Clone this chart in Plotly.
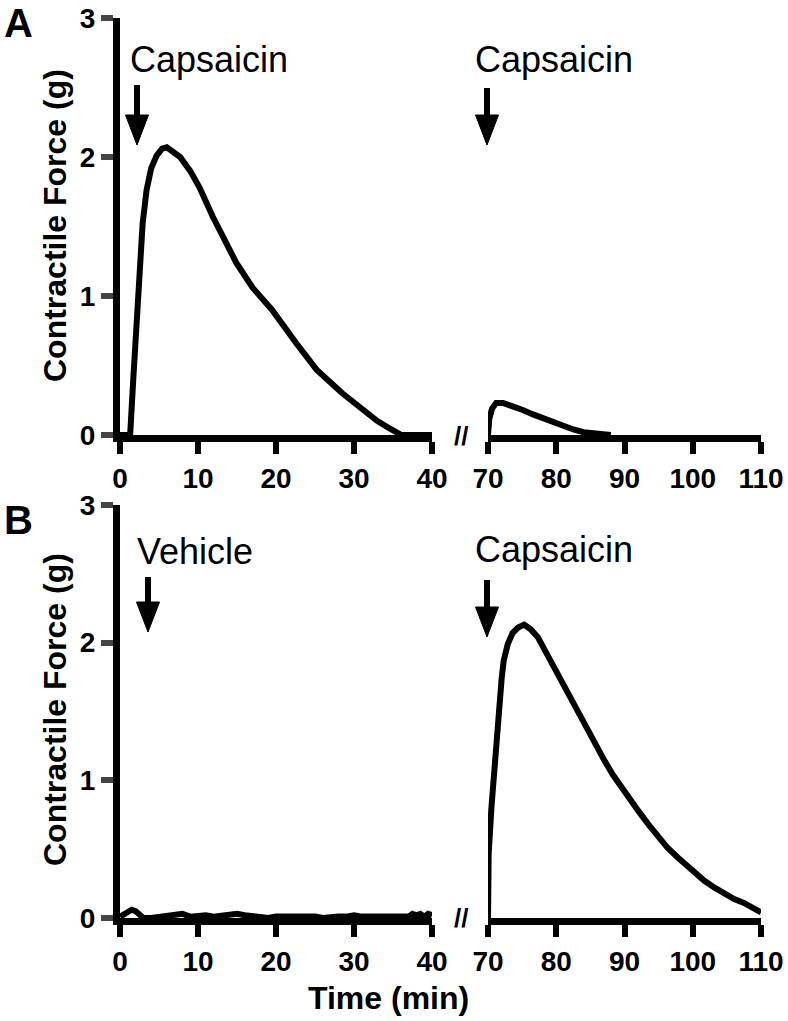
import plotly.graph_objects as go

W, H = 788, 1021

# ---------------- data
# panel A, first capsaicin (0-40 min)
a1_t = [0, 1.0, 1.3, 1.7, 2.1, 2.5, 2.9, 3.4, 4.0, 4.7, 5.4, 6.0, 6.8, 7.7, 9.0, 10.2,
        11.9, 13.5, 14.9, 17.0, 19.5, 22.6, 25.2, 28.5, 31.5, 33.0, 34.5, 36.1, 38.0, 40.0]
a1_f = [0, 0, 0, 0.40, 0.80, 1.20, 1.52, 1.76, 1.92, 2.01, 2.06, 2.07, 2.04, 2.00, 1.90, 1.78,
        1.57, 1.39, 1.24, 1.06, 0.90, 0.66, 0.47, 0.30, 0.16, 0.10, 0.05, 0.0, 0, 0]
# panel A, second capsaicin (70-110 min)
a2_t = [70.0, 70.0, 70.2, 70.6, 71.2, 72.2, 73.5, 75.1, 76.5, 78.0, 79.5, 81.0, 82.5, 84.0,
        85.5, 87.0, 88.0]
a2_f = [0, 0.06, 0.12, 0.19, 0.23, 0.23, 0.21, 0.18, 0.15, 0.12, 0.09, 0.06, 0.04, 0.02,
        0.01, 0, 0]
# panel B, vehicle (0-40 min)
b1_t = [0, 0.5, 1.0, 1.5, 2.0, 2.5, 3.0, 4, 5, 6, 7, 8, 9, 10, 11, 12, 13, 14, 15, 16, 17,
        18, 19, 20, 21, 22, 23, 24, 25, 26, 27, 28, 29, 30, 31, 32, 33, 34, 35, 36, 37,
        37.5, 38, 38.5, 39, 39.5, 40]
b1_f = [0.01, 0.03, 0.05, 0.06, 0.05, 0.02, 0.0, 0.0, 0.01, 0.02, 0.02, 0.03, 0.01, 0.02,
        0.02, 0.01, 0.02, 0.02, 0.03, 0.02, 0.01, 0.01, 0.0, 0.01, 0.01, 0.02, 0.01, 0.01,
        0.01, 0.0, 0.01, 0.01, 0.01, 0.02, 0.01, 0.01, 0.0, 0.01, 0.0, 0.0, 0.01, 0.03, 0.02,
        0.03, 0.01, 0.03, 0.02]
# panel B, capsaicin (70-110 min)
b2_t = [70.0, 70.1, 70.5, 70.9, 71.3, 71.6, 72.0, 72.3, 72.9, 73.6, 74.4, 75.3, 76.2, 77.3,
        78.5, 79.7, 81.0, 82.2, 83.5, 84.7, 85.9, 87.1, 88.3, 89.5, 90.8, 92.0, 93.5, 94.9,
        96.3, 97.8, 99.7, 101.7, 103.2, 104.6, 106.0, 107.5, 108.8, 110.0]
b2_f = [0.0, 0.47, 0.80, 1.07, 1.35, 1.56, 1.74, 1.87, 1.99, 2.07, 2.11, 2.13, 2.10, 2.04,
        1.93, 1.80, 1.69, 1.58, 1.47, 1.36, 1.25, 1.14, 1.04, 0.95, 0.86, 0.78, 0.68, 0.59,
        0.51, 0.44, 0.35, 0.27, 0.22, 0.18, 0.14, 0.11, 0.07, 0.04]

left_ticks = [0, 10, 20, 30, 40]
right_ticks = [70, 80, 90, 100, 110]
y_ticks = [0, 1, 2, 3]


# window pixel -> paper fraction
def px(x):
    return x / W


def py(y):
    return 1 - y / H


BOLD = "Liberation Sans, Arial, sans-serif"
LW = 7

fig = go.Figure()
line = dict(color="black", width=6)
fig.add_trace(go.Scatter(x=a1_t, y=a1_f, mode="lines", line=line, xaxis="x", yaxis="y"))
fig.add_trace(go.Scatter(x=a2_t, y=a2_f, mode="lines", line=line, xaxis="x2", yaxis="y2"))
fig.add_trace(go.Scatter(x=b1_t, y=b1_f, mode="lines", line=line, xaxis="x3", yaxis="y3"))
fig.add_trace(go.Scatter(x=b2_t, y=b2_f, mode="lines", line=line, xaxis="x4", yaxis="y4"))

tfont = dict(family=BOLD, size=28, color="black", weight="bold")
xcommon = dict(showline=True, linewidth=LW, linecolor="black", ticks="outside", ticklen=12,
               tickwidth=6, tickcolor="black", showgrid=False, zeroline=False,
               automargin=False, tickfont=tfont)
ycommon = dict(range=[0, 3], showgrid=False, zeroline=False, automargin=False)

domA = [py(435), py(18)]
domB = [py(918), py(505)]
dL = [px(120), px(432)]
dR = [px(488), px(761)]

fig.update_layout(
    width=W, height=H, margin=dict(l=0, r=0, t=0, b=0),
    plot_bgcolor="white", paper_bgcolor="white", showlegend=False,
    xaxis=dict(xcommon, domain=dL, range=[0, 40], tickvals=left_ticks, anchor="y"),
    xaxis2=dict(xcommon, domain=dR, range=[70, 110], tickvals=right_ticks, anchor="y2"),
    xaxis3=dict(xcommon, domain=dL, range=[0, 40], tickvals=left_ticks, anchor="y3"),
    xaxis4=dict(xcommon, domain=dR, range=[70, 110], tickvals=right_ticks, anchor="y4"),
    yaxis=dict(ycommon, domain=domA, anchor="x", showline=True, linewidth=LW, linecolor="black",
               ticks="outside", ticklen=12, tickwidth=6, tickvals=y_ticks, tickfont=tfont),
    yaxis2=dict(ycommon, domain=domA, anchor="x2", visible=False),
    yaxis3=dict(ycommon, domain=domB, anchor="x3", showline=True, linewidth=LW, linecolor="black",
                ticks="outside", ticklen=12, tickwidth=6, tickvals=y_ticks, tickfont=tfont),
    yaxis4=dict(ycommon, domain=domB, anchor="x4", visible=False),
)

ann = []


def text(x, y, s, size, bold=False, angle=0, xanchor="center"):
    ann.append(dict(x=px(x), y=py(y), xref="paper", yref="paper", text=s, showarrow=False,
                    xanchor=xanchor, yanchor="middle", textangle=angle,
                    font=dict(family=BOLD, size=size, color="black",
                              weight="bold" if bold else "normal")))


text(18, 23, "A", 40, bold=True)
text(18, 520, "B", 40, bold=True)
text(55, 226, "Contractile Force (g)", 32, bold=True, angle=-90)
text(55, 710, "Contractile Force (g)", 32, bold=True, angle=-90)
text(388, 998, "Time (min)", 32, bold=True)
text(128, 60, "Capsaicin", 36, xanchor="left")
text(473, 60, "Capsaicin", 36, xanchor="left")
text(135, 551, "Vehicle", 36, xanchor="left")
text(473, 549, "Capsaicin", 36, xanchor="left")
text(461, 436, "//", 26, bold=True)
text(461, 918, "//", 26, bold=True)
fig.update_layout(annotations=ann)

shapes = []


def arrow(x, top, tip):
    head = 30
    shapes.append(dict(type="line", xref="paper", yref="paper", x0=px(x), x1=px(x),
                       y0=py(top), y1=py(tip - head + 2), line=dict(color="black", width=6)))
    shapes.append(dict(type="path", xref="paper", yref="paper", fillcolor="black",
                       line=dict(color="black", width=1),
                       path=f"M{px(x - 11.5)},{py(tip - head)} L{px(x + 11.5)},{py(tip - head)} "
                            f"L{px(x)},{py(tip)} Z"))


arrow(137, 85, 145)
arrow(487, 88, 145)
arrow(148, 577, 632)
arrow(487, 580, 637)
fig.update_layout(shapes=shapes)

# drop the browser's default 8px body margin so the figure fills the window exactly
fig.write_html("out.html", config={"displayModeBar": False},
               post_script="document.body.style.margin='0';")
